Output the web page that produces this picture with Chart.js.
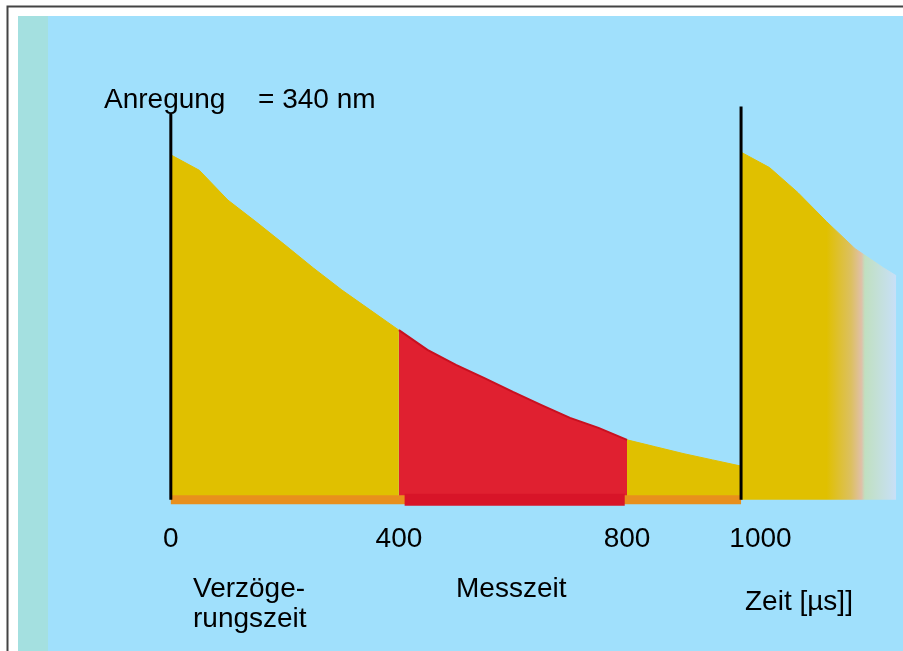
<!DOCTYPE html>
<html>
<head>
<meta charset="utf-8">
<script src="https://cdn.jsdelivr.net/npm/chart.js@4.4.1/dist/chart.umd.min.js"></script>
<style>
html, body { margin: 0; padding: 0; background: #fff; }
</style>
</head>
<body>
<canvas id="myChart" width="903" height="651"></canvas>
<script>
// time in µs, intensity in arbitrary units (excitation pulse = 100)
const delayTimes = [0, 50, 100, 150, 200, 250, 300, 350, 400];
const delayValues = [89.3, 85.3, 77.6, 71.9, 66.0, 60.0, 54.3, 49.1, 43.9];
const measureTimes = [400, 450, 500, 550, 600, 650, 700, 750, 800];
const measureValues = [43.9, 38.8, 34.9, 31.5, 27.9, 24.5, 21.2, 18.6, 15.5];
const tailTimes = [800, 850, 900, 950, 1000];
const tailValues = [15.5, 13.7, 11.9, 10.3, 8.7];
const nextTimes = [1000, 1050, 1100, 1150, 1200, 1250, 1272];
const nextValues = [90, 86, 79.5, 72, 65, 60, 58];
const pulseTimes = [0, 1000];
const pulseHeights = [100, 101.8];
const tickValues = [0, 400, 800, 1000];

const FONT = '"Liberation Sans", Arial, sans-serif';
const YELLOW = '#e0c000';
const RED = '#e02030';

function pts(xs, ys) { return xs.map((x, i) => ({x: x, y: ys[i]})); }

var ctx = document.getElementById('myChart');

// backdrop: white page, dark frame, light blue panel with teal strip
const backdrop = {
    id: 'backdrop',
    beforeDraw(chart) {
        const c = chart.ctx;
        c.save();
        c.fillStyle = '#ffffff';
        c.fillRect(0, 0, 903, 651);
        c.strokeStyle = '#444444';
        c.lineWidth = 2;
        c.beginPath();
        c.moveTo(7.5, 651);
        c.lineTo(7.5, 6.5);
        c.lineTo(903, 6.5);
        c.stroke();
        c.fillStyle = '#a0e0fc';
        c.fillRect(18, 16, 885, 635);
        c.fillStyle = '#a4e0e0';
        c.fillRect(18, 16, 30, 635);
        c.restore();
    }
};

// text notes
const notes = {
    id: 'notes',
    afterDraw(chart) {
        const c = chart.ctx;
        c.save();
        c.fillStyle = '#000';
        c.font = '28px ' + FONT;
        c.textBaseline = 'alphabetic';
        c.textAlign = 'left';
        c.fillText('Anregung', 104, 108);
        c.fillText('= 340 nm', 258, 108);
        c.fillText('Verzöge-', 193, 597);
        c.fillText('rungszeit', 193, 627);
        c.fillText('Messzeit', 456, 597);
        c.fillText('Zeit [µs]]', 745, 610);
        c.restore();
    }
};

// fade the second decay out towards the right edge
function fadeFill(context) {
    const chart = context.chart;
    const xs = chart.scales.x;
    if (!xs || !chart.chartArea) return YELLOW;
    const x0 = xs.getPixelForValue(1150);
    const x1 = xs.getPixelForValue(1272);
    if (!isFinite(x0) || !isFinite(x1)) return YELLOW;
    const g = chart.ctx.createLinearGradient(x0, 0, x1, 0);
    g.addColorStop(0, YELLOW);
    g.addColorStop(0.35, '#dcc060');
    g.addColorStop(0.5, '#e0c0a8');
    g.addColorStop(0.55, '#c0e0c0');
    g.addColorStop(1, '#c8e0f8');
    return g;
}

const chart = new Chart(ctx, {
    type: 'line',
    data: {
        datasets: [
            {
                label: 'Anregung',
                data: pts(pulseTimes, pulseHeights).flatMap(p => [{x: p.x, y: 0}, p, {x: p.x, y: null}]),
                borderColor: '#000',
                borderWidth: 3,
                pointRadius: 0,
                fill: false,
                spanGaps: false,
                order: 0
            },
            {
                label: 'Messzeit Basis',
                data: pts([410, 796], [0, 0]),
                borderColor: '#d81428',
                borderWidth: 12,
                pointRadius: 0,
                fill: false,
                order: 1
            },
            {
                label: 'Basis',
                data: pts([0, 1000], [0, 0]),
                borderColor: '#e8901c',
                borderWidth: 9,
                pointRadius: 0,
                fill: false,
                order: 2
            },
            {
                label: 'Messzeit',
                data: pts(measureTimes, measureValues),
                borderColor: '#c81020',
                backgroundColor: RED,
                borderWidth: 2,
                pointRadius: 0,
                fill: 'origin',
                order: 3
            },
            {
                label: 'Verzögerungszeit',
                data: pts(delayTimes, delayValues),
                borderColor: YELLOW,
                backgroundColor: YELLOW,
                borderWidth: 1,
                pointRadius: 0,
                fill: 'origin',
                order: 4
            },
            {
                label: 'Abklingen',
                data: pts(tailTimes, tailValues),
                borderColor: YELLOW,
                backgroundColor: YELLOW,
                borderWidth: 1,
                pointRadius: 0,
                fill: 'origin',
                order: 5
            },
            {
                label: 'Nächster Puls',
                data: pts(nextTimes, nextValues),
                borderColor: fadeFill,
                backgroundColor: fadeFill,
                borderWidth: 1,
                pointRadius: 0,
                fill: 'origin',
                order: 6
            }
        ]
    },
    options: {
        responsive: false,
        animation: false,
        devicePixelRatio: 1,
        layout: {padding: {left: 18, right: 0, top: 17, bottom: 0}},
        plugins: {legend: {display: false}, tooltip: {enabled: false}},
        scales: {
            x: {
                type: 'linear',
                min: -268,
                max: 1284,
                grid: {display: false, drawTicks: false},
                border: {display: false},
                afterBuildTicks: function(axis) { axis.ticks = tickValues.map(v => ({value: v})); },
                afterFit: function(axis) { axis.height = 132; },
                ticks: {
                    autoSkip: false,
                    maxRotation: 0,
                    padding: 3,
                    color: '#000',
                    font: {family: FONT, size: 28},
                    callback: function(v) { return v === 1000 ? '     ' + v : String(v); }
                }
            },
            y: {
                display: false,
                min: -5,
                max: 125
            }
        }
    },
    plugins: [backdrop, notes]
});
</script>
</body>
</html>
